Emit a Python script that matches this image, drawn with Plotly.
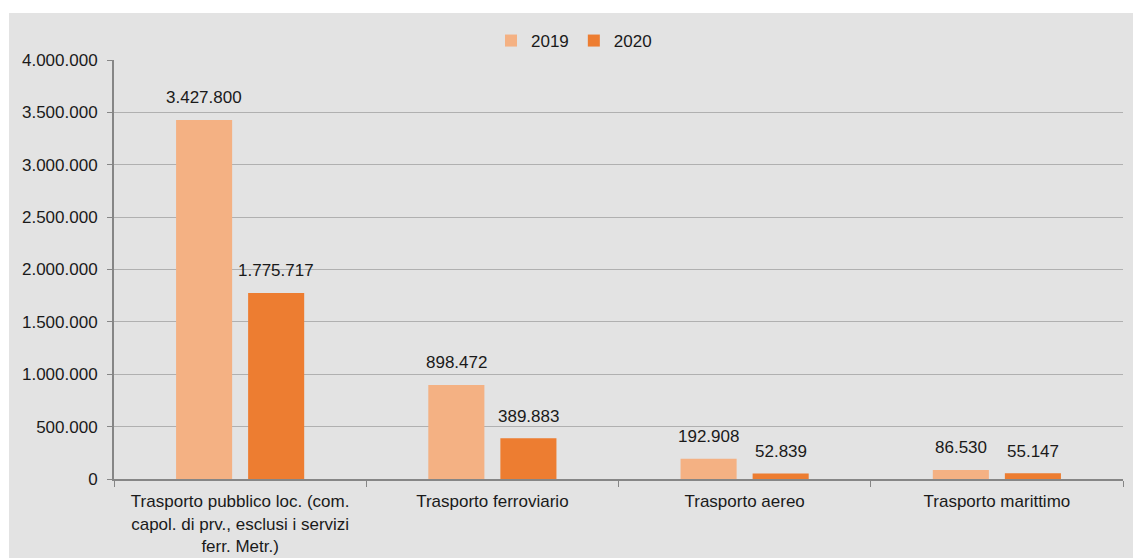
import plotly.graph_objects as go

categories = [
    "Trasporto pubblico loc. (com.<br>capol. di prv., esclusi i servizi<br>ferr. Metr.)",
    "Trasporto ferroviario",
    "Trasporto aereo",
    "Trasporto marittimo",
]
series_names = ["2019", "2020"]
values_2019 = [3427800, 898472, 192908, 86530]
values_2020 = [1775717, 389883, 52839, 55147]
colors = ["#F4B183", "#ED7D31"]
y_ticks = [0, 500000, 1000000, 1500000, 2000000, 2500000, 3000000, 3500000, 4000000]

FONT = "Liberation Sans, Arial, sans-serif"
W, H = 1133, 558
L, R, T, B = 114, 10, 60, 79
pw, ph = W - L - R, H - T - B

fig = go.Figure()
for name, vals, col in zip(series_names, [values_2019, values_2020], colors):
    fig.add_trace(go.Bar(name=name, x=categories, y=vals, marker_color=col,
                         marker_line_width=0))

def fmt(v):
    return f"{v:,}".replace(",", ".")

annotations = []
for vals, shift in zip([values_2019, values_2020], [-36, 36]):
    for c, v in zip(categories, vals):
        annotations.append(dict(x=c, y=v, xref="x", yref="y", text=fmt(v),
                                showarrow=False, xshift=shift, yshift=22,
                                yanchor="middle", xanchor="center",
                                font=dict(family=FONT, size=17, color="#1a1a1a")))

def px_x(p):
    return (p - L) / pw

def px_y(p):
    return (H - B - p) / ph

fig.update_layout(
    width=W, height=H,
    margin=dict(l=L, r=R, t=T, b=B, pad=0, autoexpand=False),
    paper_bgcolor="white",
    plot_bgcolor="rgba(0,0,0,0)",
    separators=",.",
    barmode="group",
    bargap=0.4286,
    bargroupgap=0.222,
    hovermode=False,
    font=dict(family=FONT, size=17, color="#1a1a1a"),
    shapes=[dict(type="rect", xref="paper", yref="paper",
                 x0=px_x(9), x1=px_x(1140), y0=px_y(570), y1=px_y(13),
                 fillcolor="#e3e3e3", line_width=0, layer="below")],
    annotations=annotations,
    legend=dict(orientation="h", x=px_x(574), y=px_y(41), xanchor="center",
                yanchor="middle", bgcolor="rgba(0,0,0,0)",
                font=dict(family=FONT, size=17, color="#1a1a1a"),
                itemwidth=30, traceorder="normal"),
    xaxis=dict(showgrid=False, showline=True, linecolor="#868686", linewidth=2,
               ticks="outside", ticklen=6, tickcolor="#868686", tickwidth=1,
               tickson="boundaries", fixedrange=True, ticklabelstandoff=6,
               automargin=False,
               tickfont=dict(family=FONT, size=17, color="#1a1a1a")),
    yaxis=dict(range=[0, 4000000], tickvals=y_ticks, tickformat=",d",
               showgrid=True, gridcolor="#b0b0b0", gridwidth=1,
               showline=True, linecolor="#868686", linewidth=2,
               ticks="outside", ticklen=5, tickcolor="#868686",
               ticklabelstandoff=6, zeroline=False, automargin=False,
               fixedrange=True,
               tickfont=dict(family=FONT, size=17, color="#1a1a1a")),
)

fig.write_html(
    "out.html",
    config={"displayModeBar": False},
    post_script="document.body.style.margin='0';document.body.style.overflow='hidden';",
)
